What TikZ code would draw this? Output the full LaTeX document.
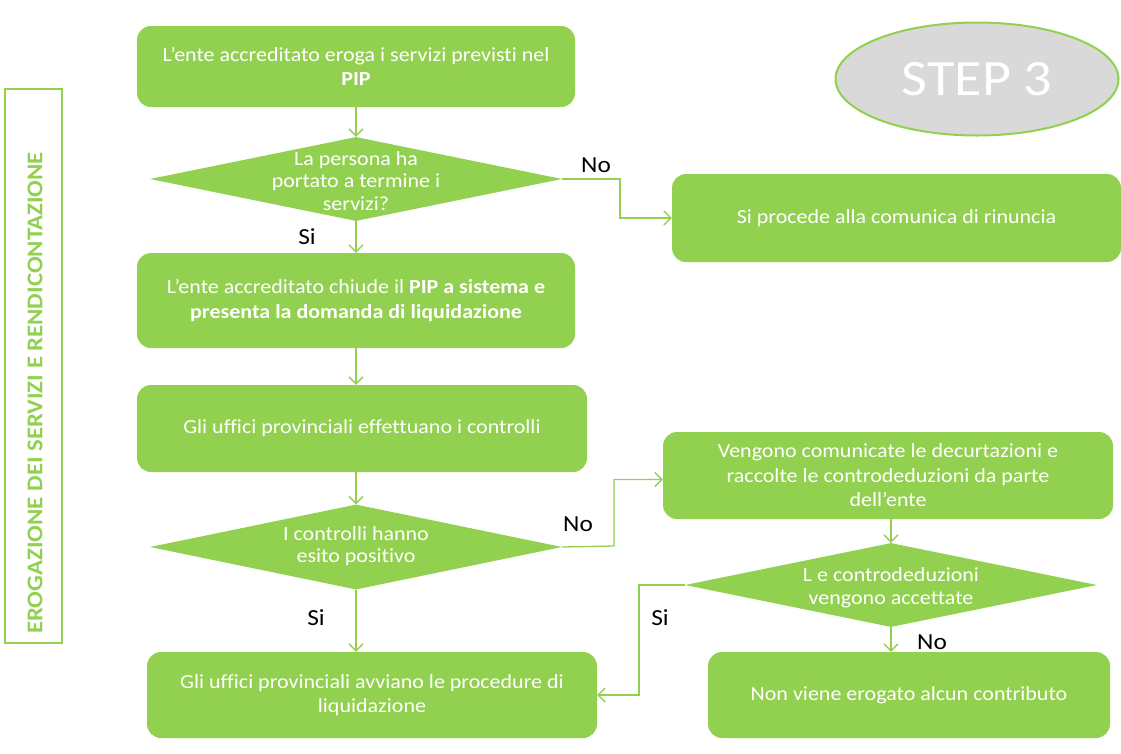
\documentclass[tikz,border=0pt]{standalone}
\usepackage{fontspec}
\setmainfont{Carlito}[Ligatures={NoCommon}, FakeStretch=1.1]
\usetikzlibrary{shapes.geometric,arrows.meta}
\definecolor{lg}{HTML}{92D050}
\definecolor{gr}{HTML}{D9D9D9}
\tikzset{
 box/.style={draw=none, fill=lg, rounded corners=14pt, text=white, align=center, font=\fontsize{20}{24.5}\selectfont, inner sep=0},
 dia/.style={shape=diamond, fill=lg, draw=none, inner sep=0},
 dtext/.style={text=white, align=center, font=\fontsize{20}{22.5}\selectfont, inner sep=0},
 conn/.style={draw=lg, line width=1.3pt, -{Straight Barb[length=7pt,width=14pt]}},
 lab/.style={font=\fontsize{23}{26}\selectfont, text=black, inner sep=0},
}
\begin{document}
\begin{tikzpicture}[x=1pt,y=1pt]
\useasboundingbox (0,0) rectangle (1121,-753);
% side label
\node[draw=lg, line width=2pt, minimum width=57pt, minimum height=554pt, inner sep=0] (side) at (33.5,-366) {};
\node[rotate=90, text=lg, font=\fontsize{22.5}{24}\selectfont\bfseries, inner sep=0] (sidet) at (35,-393) {EROGAZIONE DEI SERVIZI E RENDICONTAZIONE};
% step
\node[shape=ellipse, fill=gr, draw=lg, line width=2pt, minimum width=283pt, minimum height=113pt, text=white, font=\fontsize{51}{55}\selectfont, inner sep=0] (step) at (977,-79) {STEP 3};
% boxes
\node[box, minimum width=438pt, minimum height=81pt] (b1) at (356,-66.5) {L’ente accreditato eroga i servizi previsti nel\\\textbf{PIP}};
\node[dia, minimum width=412pt, minimum height=84pt] (d1) at (356,-179) {};
\node[dtext] (d1t) at (356,-181) {La persona ha\\portato a termine i\\servizi?};
\node[box, minimum width=449pt, minimum height=88pt] (b2) at (896.5,-218) {Si procede alla comunica di rinuncia};
\node[box, minimum width=438pt, minimum height=95pt] (b3) at (356,-300.5) {L’ente accreditato chiude il \textbf{PIP a sistema e}\\\textbf{presenta la domanda di liquidazione}};
\node[box, minimum width=450pt, minimum height=87pt] (b4) at (362,-428.5) {Gli uffici provinciali effettuano i controlli};
\node[dia, minimum width=412pt, minimum height=85pt] (d2) at (356,-547) {};
\node[dtext] (d2t) at (356,-546) {I controlli hanno\\esito positivo};
\node[box, minimum width=450pt, minimum height=87pt] (b5) at (888,-475.5) {Vengono comunicate le decurtazioni e\\raccolte le controdeduzioni da parte\\dell’ente};
\node[dia, minimum width=412pt, minimum height=84pt] (d3) at (891,-585) {};
\node[dtext] (d3t) at (891,-588) {L e controdeduzioni\\vengono accettate};
\node[box, minimum width=450pt, minimum height=86pt] (b6) at (372,-695) {Gli uffici provinciali avviano le procedure di\\liquidazione};
\node[box, minimum width=402pt, minimum height=86pt] (b7) at (909,-695) {Non viene erogato alcun contributo};
% connectors
\coordinate (k1) at (620,-179);
\coordinate (k2) at (614,-546);
\coordinate (k3) at (639,-585);
\draw[conn] (b1.south) -- (d1.north);
\draw[conn] (d1.east) -- (k1) |- (b2.west);
\draw[conn] (d1.south) -- (d1.south |- b3.north);
\draw[conn] (b3.south) -- (b3.south |- b4.north);
\draw[conn] (b4.south -| d2.north) -- (d2.north);
\draw[conn] (d2.east) -- (k2) |- ([yshift=-4pt]b5.west);
\draw[conn] (d2.south) -- (d2.south |- b6.north);
\draw[conn] (d3.north |- b5.south) -- (d3.north);
\draw[conn] (d3.south) -- (d3.south |- b7.north);
\draw[conn] (d3.west) -- (k3) |- (b6.east);
% labels
\node[lab] (no1) at (596,-165) {No};
\node[lab] (si1) at (307,-237) {Si};
\node[lab] (no2) at (578,-524) {No};
\node[lab] (si2) at (316,-618) {Si};
\node[lab] (si3) at (660,-618) {Si};
\node[lab] (no3) at (932,-642) {No};
\end{tikzpicture}
\end{document}
